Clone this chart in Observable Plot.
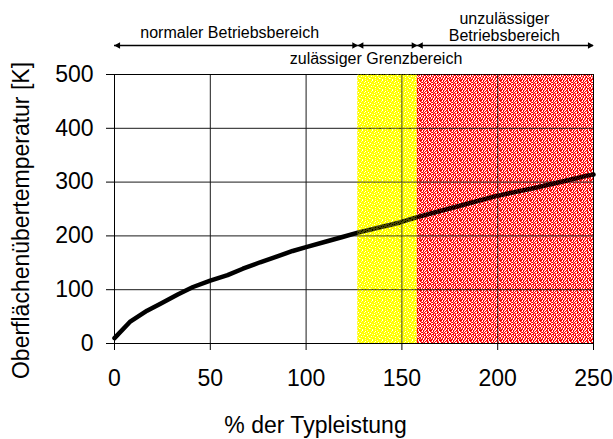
<!DOCTYPE html>
<html><head><meta charset="utf-8">
<script src="https://cdn.jsdelivr.net/npm/d3@7"></script>
<script src="https://cdn.jsdelivr.net/npm/@observablehq/plot@0.6"></script>
<style>body{margin:0;background:#fff}#chart svg{display:block}</style>
</head><body><div id="chart"></div>
<script>
// ---- data ----
const xTicks = [0, 50, 100, 150, 200, 250];
const yTicks = [0, 100, 200, 300, 400, 500];
const loadPct = [0, 8, 17, 24, 33, 41, 50, 59, 67, 76, 85, 93, 100, 111, 119, 127, 149, 158, 175, 199, 218, 236, 248, 250];
const tempK   = [10, 40, 61, 74, 91, 105, 117, 127, 139, 151, 162, 172, 179, 190, 198, 206, 225, 235, 251, 274, 288, 303, 313, 314];
const regionNames = ["normaler Betriebsbereich", "zulässiger Grenzbereich", "unzulässiger\nBetriebsbereich"];
const regionStart = [0, 127, 158];
const regionEnd   = [127, 158, 250];
const xLabel = "% der Typleistung";
const yLabel = "Oberflächenübertemperatur [K]";

// ---- derived ----
const curve = loadPct.map((x, i) => ({x, y: tempK[i]}));
const regions = regionNames.map((name, i) => ({name, x1: regionStart[i], x2: regionEnd[i]}));
const yMax = d3.max(yTicks);
const font = "'Liberation Sans', Arial, sans-serif";

const rectOpts = (o) => Object.assign({x1: "x1", x2: "x2", y1: () => 0, y2: () => yMax}, o);
const annOpts = (o) => Object.assign({x: d => (d.x1 + d.x2) / 2, frameAnchor: "top", text: "name",
  textAnchor: "middle", lineAnchor: "middle", fontSize: 16, fontFamily: font}, o);

const plot = Plot.plot({
  width: 613, height: 439,
  marginLeft: 114, marginRight: 20, marginTop: 74, marginBottom: 96,
  style: {fontFamily: font, fontSize: "23px", color: "#000", background: "#fff", overflow: "visible"},
  x: {domain: [0, 250], ticks: xTicks, tickSize: 7, tickPadding: 19, label: null},
  y: {domain: [0, 500], ticks: yTicks, tickSize: 8, tickPadding: 13, label: null},
  marks: [
    Plot.rect([regions[1]], rectOpts({fill: "url(#patYellow)"})),
    Plot.rect([regions[2]], rectOpts({fill: "url(#patRed)"})),
    Plot.ruleX(xTicks, {stroke: "#1a1a1a", strokeWidth: 1}),
    Plot.ruleY(yTicks, {stroke: "#1a1a1a", strokeWidth: 1}),
    Plot.frame({stroke: "#000", strokeWidth: 1}),
    Plot.line(curve, {x: "x", y: "y", stroke: "#000", strokeWidth: 4.5, strokeLinecap: "round", strokeLinejoin: "round"}),
    Plot.rect([regions[1]], rectOpts({fill: "url(#patYellowOver)"})),
    Plot.rect([regions[2]], rectOpts({fill: "url(#patRedOver)"})),
    // range arrows above the plot
    Plot.ruleY(regions, {x1: "x1", x2: "x2", y: () => yMax, dy: -29, stroke: "#000", strokeWidth: 1.3}),
    Plot.dot(regions, {x: "x1", y: () => yMax, dy: -29, dx: 3.6, symbol: "triangle", rotate: -90, r: 2.5, fill: "#000", stroke: "none"}),
    Plot.dot(regions, {x: "x2", y: () => yMax, dy: -29, dx: -3.6, symbol: "triangle", rotate: 90, r: 2.5, fill: "#000", stroke: "none"}),
    Plot.text([regions[0]], annOpts({dx: -6.5, dy: -42})),
    Plot.text([regions[1]], annOpts({dx: -11.5, dy: -16})),
    Plot.text([regions[2]], annOpts({dx: -1, dy: -47.5, lineHeight: 1.07})),
    // axis titles
    Plot.text([xLabel], {frameAnchor: "bottom", text: d => d, textAnchor: "middle", lineAnchor: "bottom", dx: -38.5, dy: 89, fontSize: 23}),
    Plot.text([yLabel], {frameAnchor: "left", text: d => d, textAnchor: "middle", lineAnchor: "middle", rotate: -90, dx: -93, dy: 11.5, fontSize: 23})
  ]
});

// ---- fill patterns (texture only) ----
const svg = d3.select(plot);
const defs = svg.insert("defs", ":first-child");
function addPattern(id, rows, colors) {
  const p = defs.append("pattern").attr("id", id).attr("patternUnits", "userSpaceOnUse")
    .attr("width", rows[0].length).attr("height", rows.length);
  rows.forEach((row, r) => [...row].forEach((ch, c) => {
    if (colors[ch]) p.append("rect").attr("x", c).attr("y", r).attr("width", 1).attr("height", 1).attr("fill", colors[ch]);
  }));
}
const redRows = [
  "RRwRpwRRwR",
  "RpwRwRpRpw",
  "wRRpRwwRRw",
  "RwwRpRpRwR",
  "RpRRwRwwRp",
  "wRwpRRwRpR",
  "wRpRwpRwRw",
  "RwpRwRRpwR",
  "RwRwpRwRRp",
  "pRRwRpwRwR"
];
const yelRows = [
  "YYwYYYYpYY",
  "YpYYYwYYYY",
  "YYYYpYYYwY",
  "wYYYYYpYYY",
  "YYpYwYYYYp",
  "YYYYYYYwYY",
  "YwYpYYYYYY",
  "YYYYYwYYpY",
  "pYYYYYYYYw",
  "YYwYYpYYYY"
];
addPattern("patRed", redRows, {R: "#ff0000", p: "#ff8080", w: "#ffffff"});
addPattern("patYellow", yelRows, {Y: "#ffff00", p: "#ffffa0", w: "#ffffff"});
addPattern("patRedOver", redRows, {R: "rgba(255,0,0,0.28)"});
addPattern("patYellowOver", yelRows, {Y: "rgba(255,255,0,0.28)"});

document.getElementById("chart").appendChild(plot);
</script>
</body></html>
